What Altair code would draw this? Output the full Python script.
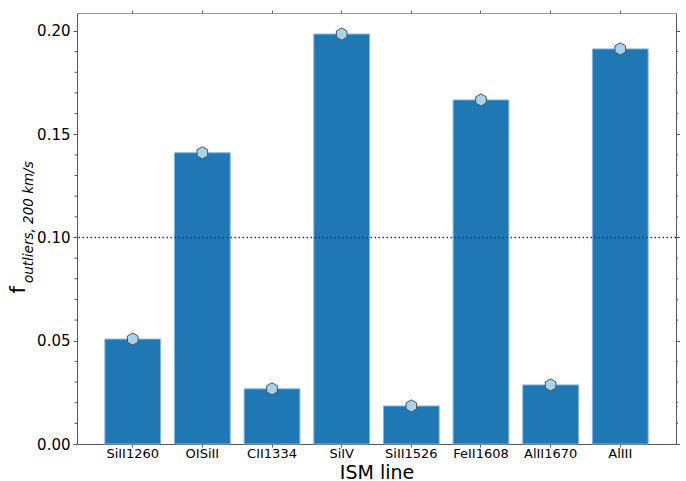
import altair as alt
import pandas as pd

# ---- data ----
lines = ["SiII1260", "OISiII", "CII1334", "SiIV", "SiII1526", "FeII1608", "AlII1670", "AlIII"]
fractions = [0.0508, 0.1410, 0.0267, 0.1985, 0.0184, 0.1666, 0.0286, 0.1913]
threshold = [0.10]
major_ticks = [0.00, 0.05, 0.10, 0.15, 0.20]
minor_ticks = [0.01, 0.02, 0.03, 0.04, 0.06, 0.07, 0.08, 0.09,
               0.11, 0.12, 0.13, 0.14, 0.16, 0.17, 0.18, 0.19]
y_domain = [0.0, 0.2087]

W, H = 599, 431
FONT = "DejaVu Sans"
AXC = "#555555"

df = pd.DataFrame({"line": lines, "frac": fractions})
thr = pd.DataFrame({"y": threshold})
minor = pd.DataFrame({"y": minor_ticks})

xscale = alt.Scale(domain=lines, paddingInner=0.2, paddingOuter=0.4)
yscale = alt.Scale(domain=y_domain, nice=False, zero=True)

hexagon = "M0,-1L0.866,-0.5L0.866,0.5L0,1L-0.866,0.5L-0.866,-0.5Z"

bars = alt.Chart(df).mark_bar(color="#1f77b4", stroke="#82b4dc", strokeWidth=1).encode(
    x=alt.X("line:N", sort=lines, scale=xscale,
            axis=alt.Axis(orient="bottom", title="ISM line", labelAngle=0,
                          labelFontSize=13, titleFontSize=19, titleFont=FONT, labelFont=FONT,
                          labelColor="#000", titleColor="#000", titleFontWeight="normal",
                          domainColor=AXC, tickColor=AXC, tickSize=3, labelPadding=0.5,
                          titleBaseline="alphabetic", titleY=34)),
    y=alt.Y("frac:Q", scale=yscale,
            axis=alt.Axis(orient="left", title=None, values=major_ticks, format=".2f",
                          labelFontSize=15, labelFont=FONT, labelColor="#000",
                          domainColor=AXC, tickColor=AXC, tickSize=4, labelPadding=3,
                          grid=False)),
)

points = alt.Chart(df).mark_point(shape=hexagon, size=150, filled=True,
                                   fill="#a9d3e6", stroke="#3f5563", strokeWidth=1,
                                   opacity=1).encode(
    x=alt.X("line:N", sort=lines, scale=xscale,
            axis=alt.Axis(orient="top", title=None, labels=False,
                          domainColor="#999999", tickColor=AXC, tickSize=3)),
    y=alt.Y("frac:Q", scale=yscale,
            axis=alt.Axis(orient="right", title=None, labels=False, values=major_ticks,
                          domainColor=AXC, tickColor=AXC, tickSize=3.5, grid=False)),
)

hline = alt.Chart(thr).mark_rule(color="#1a1ae0", strokeWidth=1.5, strokeDash=[1.5, 2.5]).encode(
    y=alt.Y("y:Q", scale=yscale, axis=None),
)

minor_left = alt.Chart(minor).mark_rule(color=AXC, strokeWidth=1).encode(
    y=alt.Y("y:Q", scale=yscale, axis=None),
    x=alt.value(-2.5), x2=alt.value(0),
)
minor_right = alt.Chart(minor).mark_rule(color=AXC, strokeWidth=1).encode(
    y=alt.Y("y:Q", scale=yscale, axis=None),
    x=alt.value(W), x2=alt.value(W + 2),
)

f_main = alt.Chart(pd.DataFrame({"t": ["f"]})).mark_text(
    angle=270, align="right", baseline="alphabetic", fontSize=21, font=FONT, color="#000"
).encode(text="t:N", x=alt.value(-52), y=alt.value(273))

f_sub = alt.Chart(pd.DataFrame({"t": ["outliers, 200 km/s"]})).mark_text(
    angle=270, align="left", baseline="alphabetic", fontSize=13.5, font=FONT,
    fontStyle="italic", color="#000"
).encode(text="t:N", x=alt.value(-44), y=alt.value(270))

chart = alt.layer(bars, points, hline, minor_left, minor_right, f_main, f_sub).resolve_axis(
    x="independent", y="independent"
).properties(
    width=W, height=H,
    autosize=alt.AutoSizeParams(type="none"),
    padding={"left": 77, "top": 13, "right": 10, "bottom": 37},
).configure_view(stroke=None).configure(background="white")

chart.save("out.html", embed_options={"renderer": "svg", "actions": False})
